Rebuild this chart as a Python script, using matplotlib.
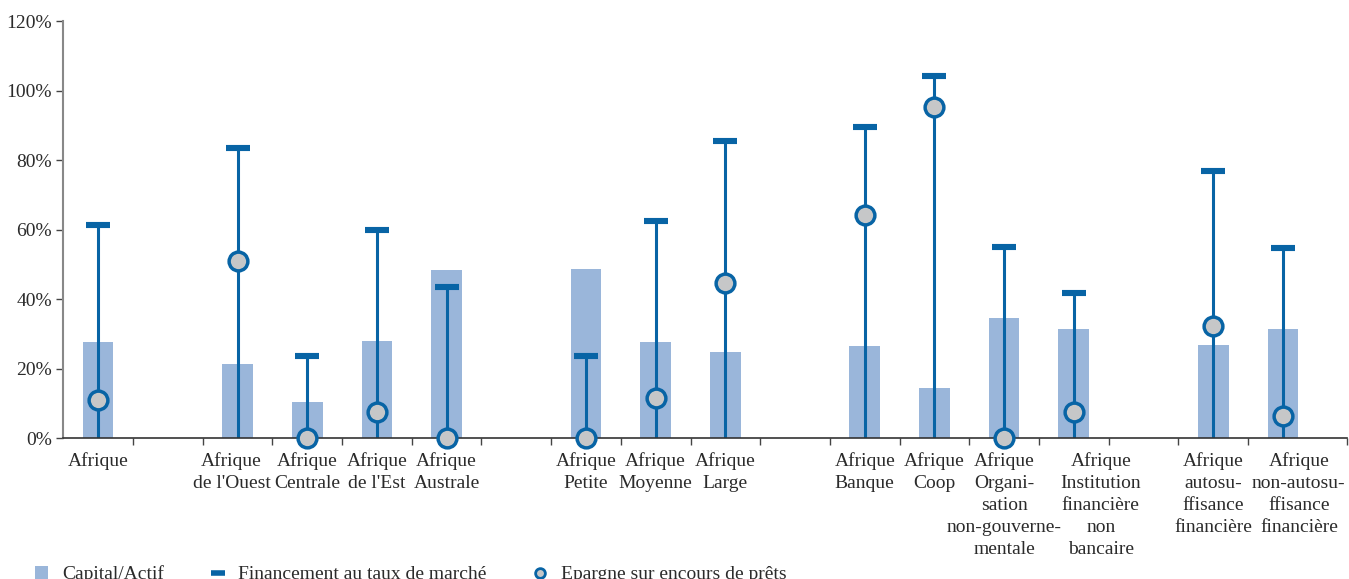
import numpy as np
import matplotlib
matplotlib.use('Agg')
import matplotlib.pyplot as plt
import matplotlib.transforms as mtransforms
from matplotlib.lines import Line2D
from matplotlib.patches import Patch

plt.rcParams['font.family'] = ['Liberation Serif', 'DejaVu Serif']

# categories ('' = empty gap slot)
labels = ['Afrique', '',
          "Afrique\nde l'Ouest", 'Afrique\nCentrale', "Afrique\nde l'Est", 'Afrique\nAustrale', '',
          'Afrique\nPetite', 'Afrique\nMoyenne', 'Afrique\nLarge', '',
          'Afrique\nBanque', 'Afrique\nCoop', 'Afrique\nOrgani-\nsation\nnon-gouverne-\nmentale',
          'Afrique\nInstitution\nfinancière\nnon\nbancaire', '',
          'Afrique\nautosu-\nffisance\nfinancière', 'Afrique\nnon-autosu-\nffisance\nfinancière']

nan = np.nan
capital = [27.6, nan, 21.4, 10.4, 27.9, 48.4, nan, 48.7, 27.7, 24.9, nan, 26.5, 14.4, 34.6, 31.4, nan, 26.8, 31.3]
financement = [61.2, nan, 83.6, 23.6, 59.9, 43.5, nan, 23.6, 62.6, 85.6, nan, 89.6, 104.2, 55.0, 41.9, nan, 76.9, 54.6]
epargne = [11.0, nan, 51.0, 0.0, 7.7, 0.0, nan, 0.0, 11.7, 44.8, nan, 64.3, 95.4, 0.0, 7.7, nan, 32.3, 6.3]

# small horizontal shifts of some labels (pixels), as in the original
label_shift = {2: -6, 14: 27, 17: 16}

bar_col = '#9ab6da'
line_col = '#0864a5'
dot_col = '#c6c7c8'
txt_col = '#2b2b2b'

x = np.arange(len(labels))
capital = np.array(capital)
financement = np.array(financement)
epargne = np.array(epargne)

fig = plt.figure(figsize=(13.49, 5.79), dpi=100)
ax = fig.add_axes([63.3 / 1349, 1 - 438.3 / 579, (1347 - 63.3) / 1349, (438.3 - 21) / 579])

ax.bar(x, capital, width=0.44, color=bar_col, zorder=1)
ax.vlines(x, 0, financement, color=line_col, linewidth=2.2, zorder=2)
ax.plot(x, financement, linestyle='none', marker='_', markersize=17, mew=4.4,
        color=line_col, zorder=3)
ax.plot(x, epargne, linestyle='none', marker='o', markersize=13.5, mew=2.5,
        markerfacecolor=dot_col, markeredgecolor=line_col, zorder=4, clip_on=False)

xmax = 17.92
ax.set_xlim(-0.5, xmax)
ax.set_ylim(0, 120)
ax.set_yticks(np.arange(0, 121, 20))
ax.set_yticklabels([f'{v}%' for v in range(0, 121, 20)])

ax.set_xticks(x)
ax.set_xticklabels(labels)
ax.set_xticks(list(np.arange(0.5, 17, 1)) + [xmax], minor=True)
ax.tick_params(axis='x', which='major', length=0, pad=10, labelsize=14, labelcolor=txt_col)
ax.tick_params(axis='x', which='minor', length=5, width=1, color='#444444', direction='out')
ax.tick_params(axis='y', length=5, width=1, color='#444444', pad=3, labelsize=14, labelcolor=txt_col)

for i, lab in enumerate(ax.get_xticklabels()):
    lab.set_linespacing(1.38)
    if i in label_shift:
        off = mtransforms.ScaledTranslation(label_shift[i] / 100, 0, fig.dpi_scale_trans)
        lab.set_transform(lab.get_transform() + off)

ax.spines['top'].set_visible(False)
ax.spines['right'].set_visible(False)
ax.spines['left'].set_color('#888888')
ax.spines['left'].set_linewidth(1.5)
ax.spines['bottom'].set_color('#333333')
ax.spines['bottom'].set_linewidth(1.2)

handles = [Patch(facecolor=bar_col, edgecolor='none'),
           Line2D([], [], linestyle='none', marker='_', markersize=10, mew=4, color=line_col),
           Line2D([], [], linestyle='none', marker='o', markersize=7, mew=2,
                  markerfacecolor=dot_col, markeredgecolor=line_col)]
names = ['Capital/Actif', 'Financement au taux de marché', 'Epargne sur encours de prêts']
leg = fig.legend(handles, names, loc='center left', bbox_to_anchor=(0.026, 0.008),
                 ncol=3, frameon=False, fontsize=14, handlelength=0.65, handleheight=0.65,
                 handletextpad=0.75, columnspacing=2.42, borderpad=0, borderaxespad=0)
for t in leg.get_texts():
    t.set_color(txt_col)

fig.savefig('out.png', dpi=100)
